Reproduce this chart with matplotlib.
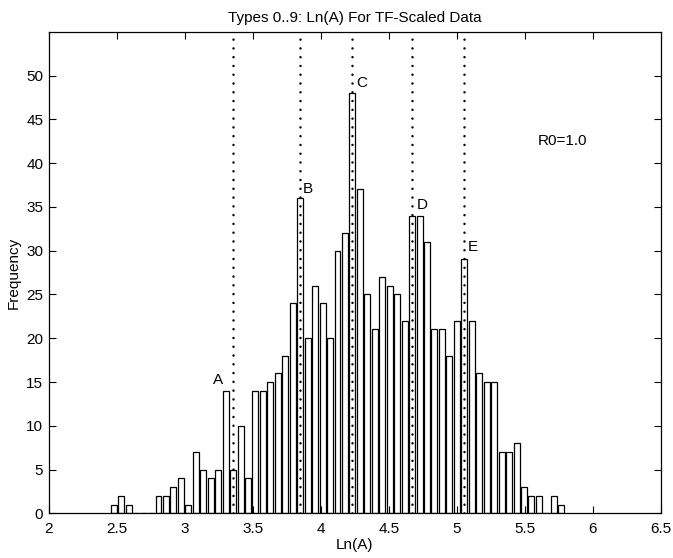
import numpy as np
import matplotlib
matplotlib.use("Agg")
import matplotlib.pyplot as plt

# ---- data ----
bin_lo = 2.4506          # left edge of first histogram bin
bin_hi = 5.7965          # right edge of last histogram bin
counts = [1, 2, 1, 0, 0, 0, 2, 2, 3, 4, 1, 7, 5, 4, 5, 14, 5, 10, 4, 14,
          14, 15, 16, 18, 24, 36, 20, 26, 24, 20, 30, 32, 48, 37, 25, 21, 27, 26, 25, 22,
          34, 34, 31, 21, 21, 18, 22, 29, 22, 16, 15, 15, 7, 7, 8, 3, 2, 2, 0, 2, 1]
marker_x = [3.356, 3.849, 4.233, 4.672, 5.056]
marker_labels = ["A", "B", "C", "D", "E"]
label_x = [3.245, 3.908, 4.300, 4.749, 5.120]
label_y = [14.4, 36.3, 48.4, 34.4, 29.6]
xticks = [2, 2.5, 3, 3.5, 4, 4.5, 5, 5.5, 6, 6.5]
xtick_labels = ["2", "2.5", "3", "3.5", "4", "4.5", "5", "5.5", "6", "6.5"]
yticks = [0, 5, 10, 15, 20, 25, 30, 35, 40, 45, 50]

plt.rcParams['font.family'] = ['Liberation Sans', 'DejaVu Sans']
FS = 11

edges = np.linspace(bin_lo, bin_hi, len(counts) + 1)
centers = (edges[:-1] + edges[1:]) / 2
width = edges[1] - edges[0]

fig = plt.figure(figsize=(6.73, 5.58), dpi=100)
ax = fig.add_axes([0.0724, 0.080, 0.9093, 0.863])

ax.bar(centers, counts, width=0.8 * width, facecolor='white', edgecolor='black',
       linewidth=0.9)

for mx in marker_x:
    ax.plot([mx, mx], [0, 55], linestyle=(0, (0.01, 3.5)), color='black', linewidth=1.8,
            dash_capstyle='round')

for t, lx, ly in zip(marker_labels, label_x, label_y):
    ax.text(lx, ly, t, ha='center', va='bottom', fontsize=FS)

ax.text(5.78, 42.5, "R0=1.0", ha='center', va='center', fontsize=FS)

ax.set_xlim(2, 6.5)
ax.set_ylim(0, 55)
ax.set_xticks(xticks)
ax.set_xticklabels(xtick_labels)
ax.set_yticks(yticks)
ax.tick_params(direction='in', top=True, right=True, length=5, width=0.8, labelsize=FS)
ax.tick_params(axis='x', pad=6)
ax.tick_params(axis='y', pad=4)
for s in ax.spines.values():
    s.set_linewidth(0.9)

ax.set_title("Types 0..9: Ln(A) For TF-Scaled Data", fontsize=FS, pad=7)
ax.set_xlabel("Ln(A)", fontsize=FS, labelpad=2)
ax.set_ylabel("Frequency", fontsize=FS, labelpad=4)

fig.savefig("out.png", dpi=100)
